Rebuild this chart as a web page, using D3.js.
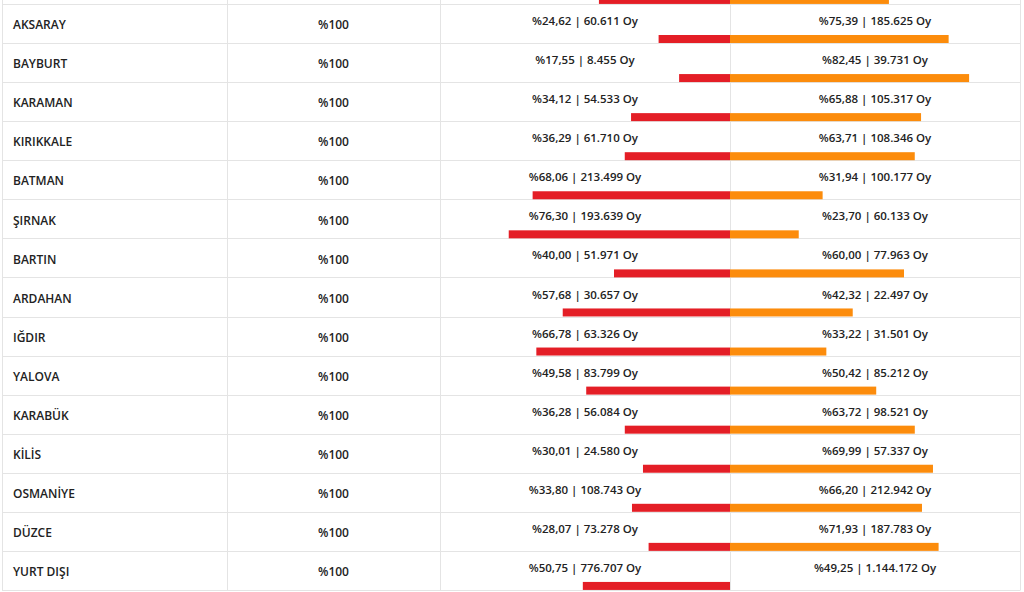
<!DOCTYPE html>
<html>
<head>
<meta charset="utf-8">
<script src="https://cdn.jsdelivr.net/npm/d3@7"></script>
<style>
  body { margin: 0; background: #fff; }
  svg text { font-family: "Open Sans", "Segoe UI", sans-serif; fill: #222; }
</style>
</head>
<body>
<svg id="chart" width="1024" height="592"></svg>
<script>
// row above AKSARAY is cut off at the top, only its bars show
var names = ["", "AKSARAY", "BAYBURT", "KARAMAN", "KIRIKKALE", "BATMAN", "ŞIRNAK", "BARTIN",
    "ARDAHAN", "IĞDIR", "YALOVA", "KARABÜK", "KİLİS", "OSMANİYE", "DÜZCE", "YURT DIŞI"];
var share = ["", "%100", "%100", "%100", "%100", "%100", "%100", "%100",
    "%100", "%100", "%100", "%100", "%100", "%100", "%100", "%100"];
var leftPct = [45.2, 24.62, 17.55, 34.12, 36.29, 68.06, 76.30, 40.00,
    57.68, 66.78, 49.58, 36.28, 30.01, 33.80, 28.07, 50.75];
var leftVotes = ["", "60.611", "8.455", "54.533", "61.710", "213.499", "193.639", "51.971",
    "30.657", "63.326", "83.799", "56.084", "24.580", "108.743", "73.278", "776.707"];
var rightPct = [54.8, 75.39, 82.45, 65.88, 63.71, 31.94, 23.70, 60.00,
    42.32, 33.22, 50.42, 63.72, 69.99, 66.20, 71.93, 49.25];
var rightVotes = ["", "185.625", "39.731", "105.317", "108.346", "100.177", "60.133", "77.963",
    "22.497", "31.501", "85.212", "98.521", "57.337", "212.942", "187.783", "1.144.172"];

function fmt(p) { return "%" + p.toFixed(2).replace(".", ","); }

var svg = d3.select("#chart");
var tableTop = 4, tableBottom = 590;
var step = (tableBottom - tableTop) / (names.length - 1);

var y = d3.scaleBand()
    .domain(d3.range(names.length))
    .range([tableTop - step, tableBottom])
    .padding(0);

var cols = [2, 227, 440, 730, 1020];
var center = 730;
var w = d3.scaleLinear().domain([0, 100]).range([0, 290]);

var data = names.map(function (n, i) {
    return {name: n, share: share[i], lp: leftPct[i], lv: leftVotes[i], rp: rightPct[i], rv: rightVotes[i], i: i};
});

// grid
var grid = svg.append("g").attr("stroke", "#e4e4e4").attr("stroke-width", 1);
d3.range(1, names.length + 1).forEach(function (i) {
    var yy = Math.round(i < names.length ? y(i) : tableBottom) + 0.5;
    grid.append("line").attr("x1", cols[0]).attr("x2", cols[4]).attr("y1", yy).attr("y2", yy);
});
cols.forEach(function (c) {
    grid.append("line").attr("x1", c + 0.5).attr("x2", c + 0.5).attr("y1", 0).attr("y2", tableBottom + 0.5);
});

// bars
svg.selectAll(".lbar").data(data).enter().append("rect")
    .attr("class", "lbar")
    .attr("x", function (d) { return center - w(d.lp); })
    .attr("y", function (d) { return y(d.i) + 31; })
    .attr("width", function (d) { return w(d.lp); })
    .attr("height", 8)
    .attr("fill", "#e41e26");

// last orange bar is not drawn in the source picture
svg.selectAll(".rbar").data(data.slice(0, data.length - 1)).enter().append("rect")
    .attr("class", "rbar")
    .attr("x", center)
    .attr("y", function (d) { return y(d.i) + 31; })
    .attr("width", function (d) { return w(d.rp); })
    .attr("height", 8)
    .attr("fill", "#fc8c0c");

var rows = data.filter(function (d) { return d.name !== ""; });

svg.selectAll(".name").data(rows).enter().append("text")
    .attr("x", 13)
    .attr("y", function (d) { return y(d.i) + 22; })
    .attr("dominant-baseline", "middle")
    .attr("font-size", 12)
    .attr("font-weight", 600)
    .text(function (d) { return d.name; });

svg.selectAll(".share").data(rows).enter().append("text")
    .attr("x", (cols[1] + cols[2]) / 2)
    .attr("y", function (d) { return y(d.i) + 22; })
    .attr("dominant-baseline", "middle")
    .attr("text-anchor", "middle")
    .attr("font-size", 12)
    .attr("font-weight", 600)
    .text(function (d) { return d.share; });

svg.selectAll(".ltxt").data(rows).enter().append("text")
    .attr("x", (cols[2] + cols[3]) / 2)
    .attr("y", function (d) { return y(d.i) + 18; })
    .attr("dominant-baseline", "middle")
    .attr("text-anchor", "middle")
    .attr("font-size", 11.5)
    .attr("font-weight", 600)
    .text(function (d) { return fmt(d.lp) + " | " + d.lv + " Oy"; });

svg.selectAll(".rtxt").data(rows).enter().append("text")
    .attr("x", (cols[3] + cols[4]) / 2)
    .attr("y", function (d) { return y(d.i) + 18; })
    .attr("dominant-baseline", "middle")
    .attr("text-anchor", "middle")
    .attr("font-size", 11.5)
    .attr("font-weight", 600)
    .text(function (d) { return fmt(d.rp) + " | " + d.rv + " Oy"; });
</script>
</body>
</html>
